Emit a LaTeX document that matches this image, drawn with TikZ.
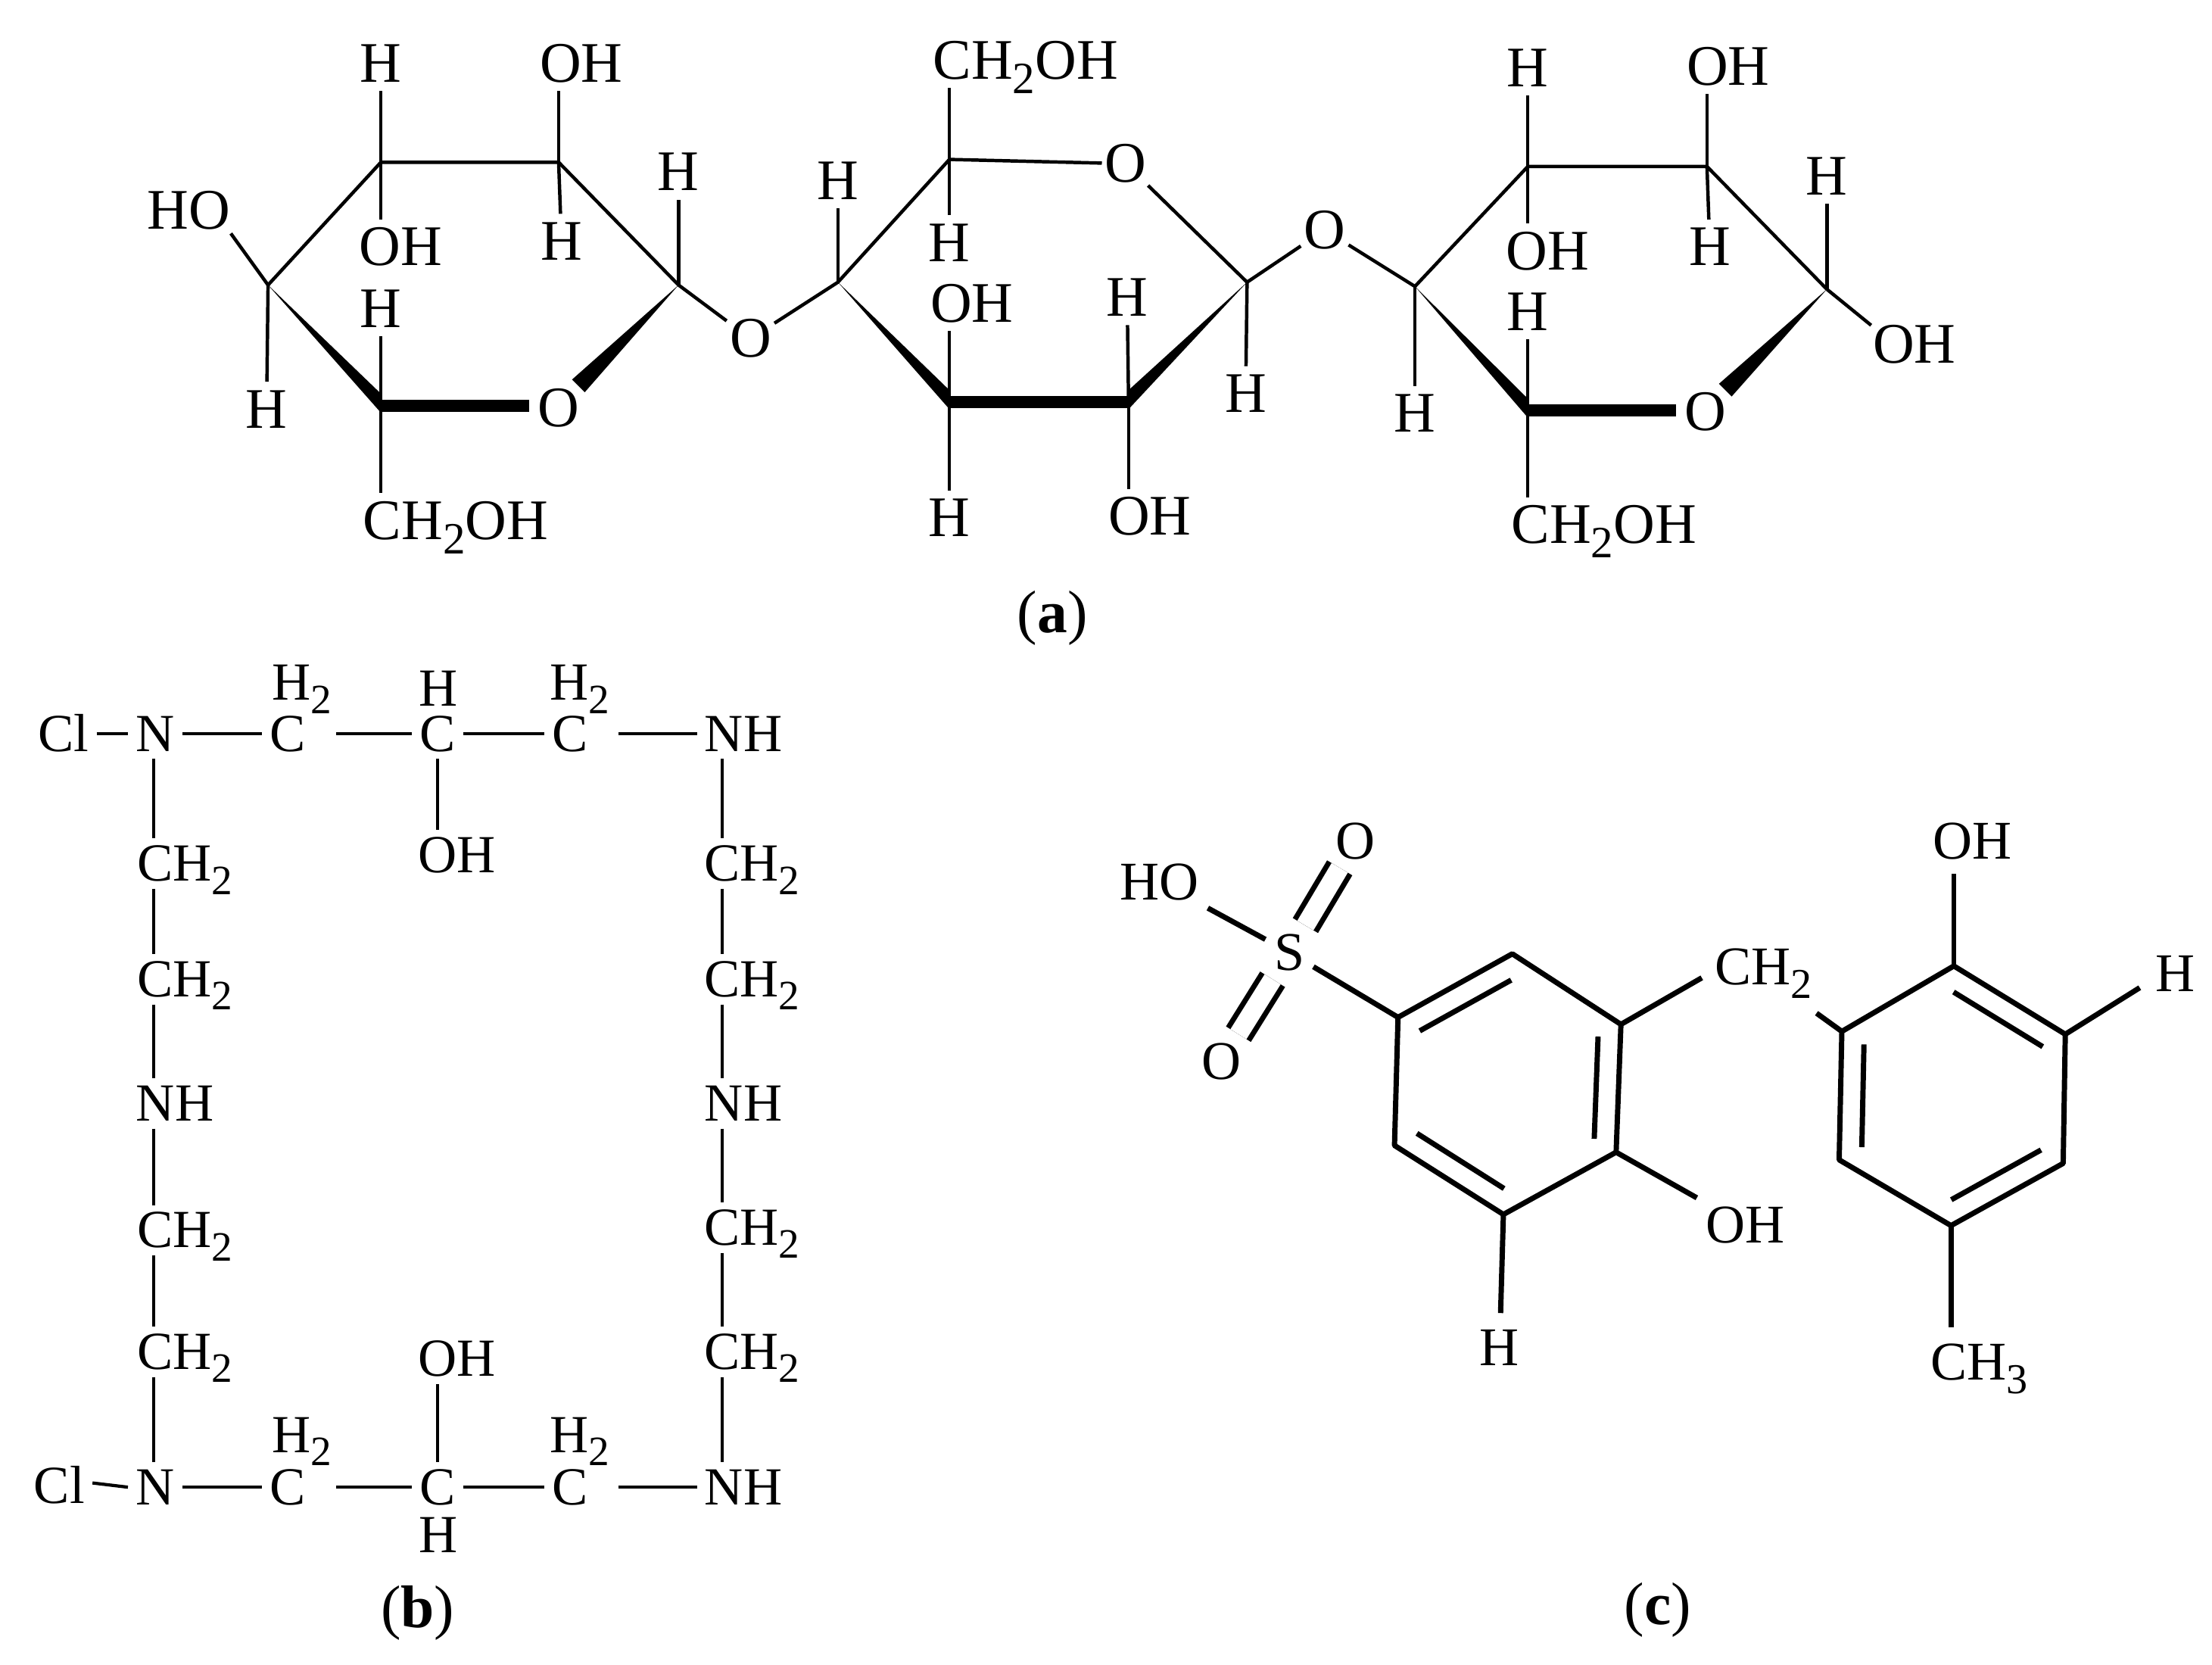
\documentclass[tikz,border=0pt]{standalone}
\usepackage{fontspec}
\setmainfont{Liberation Serif}
\usetikzlibrary{calc}

\newcommand{\lsub}[1]{\raisebox{-0.25em}{\scalebox{0.78}{#1}}}
\newcommand{\wedgebond}[2]{\fill [black] (#1) -- ($(#2)+(0,-8.5)$) -- ($(#2)+(0,5)$) -- cycle;}
\newcommand{\wedgeback}[2]{\fill [black] (#1) -- ($(#2)+(0,5)$) -- ($(#2)+(0,-8.5)$) -- cycle;}
\newcommand{\wedgeoxy}[2]{\fill [black] (#1) -- ($(#2)+(18.5,-11)$) -- ($(#2)+(9.5,-20)$) -- cycle;}
\newcommand{\innerbond}[3]{\draw [bondc] ($(#3)!0.8!(#1)$) -- ($(#3)!0.8!(#2)$);}

\tikzset{
  atoma/.style={inner sep=4.5pt,text depth=0pt,text height=19.8pt,font=\fontsize{30.5}{30}\selectfont},
  oxya/.style={atoma,inner sep=1.5pt},
  atomb/.style={inner sep=4pt,text depth=0pt,text height=18.5pt,font=\fontsize{28.5}{28}\selectfont},
  atomc/.style={inner sep=4.5pt,text depth=0pt,text height=19.2pt,font=\fontsize{29}{29}\selectfont},
  caption/.style={inner sep=0pt,font=\fontsize{32}{32}\selectfont},
  bonda/.style={line width=1.8pt},
  bondb/.style={line width=1.7pt},
  bondc/.style={line width=2.8pt},
  boldbond/.style={line width=6.4pt},
  doublebond/.style={bondc,double,double distance=10pt}
}

\begin{document}
\begin{tikzpicture}[x=0.75pt,y=0.75pt,yscale=-1,xscale=1]
\useasboundingbox (0,0) rectangle (1568,1180);

\coordinate (a1) at (190,202);
\coordinate (a2) at (270,115);
\coordinate (a3) at (396,115);
\coordinate (a4) at (481,202);
\coordinate (a5) at (270,287.5);
\coordinate (b1) at (594,200);
\coordinate (b2) at (673,113);
\coordinate (b3) at (884,200);
\coordinate (b4) at (800,285);
\coordinate (b5) at (673,285);
\coordinate (d1) at (1003,203);
\coordinate (d2) at (1083,118);
\coordinate (d3) at (1210,118);
\coordinate (d4) at (1295,205);
\coordinate (d5) at (1083,291);

\node [atoma] (ha1) at (270,45) {H};
\node [atoma] (oha1) at (412,45) {OH};
\node [atoma] (hoa) at (134,149) {HO};
\node [atoma] (oha2) at (284,175) {OH};
\node [atoma] (ha2) at (398,171) {H};
\node [atoma] (ha3) at (481,122) {H};
\node [atoma] (ha4) at (270,219) {H};
\node [atoma] (ha5) at (189,290) {H};
\node [atoma] (oa1) at (396,289) {O};
\node [oxya] (oa2) at (532,240) {O};
\node [atoma] (cha) at (323,369) {CH\lsub{2}OH};

\node [atoma] (chb) at (727,43) {CH\lsub{2}OH};
\node [atoma] (hb1) at (594,128) {H};
\node [atoma] (hb2) at (673,172) {H};
\node [atoma] (ohb1) at (689,215) {OH};
\node [atoma] (hb3) at (799,211) {H};
\node [atoma] (hb4) at (883,279) {H};
\node [atoma] (hb5) at (673,367) {H};
\node [atoma] (ohb2) at (815,366) {OH};
\node [oxya] (ob1) at (798,116) {O};
\node [oxya] (ob2) at (939,163) {O};

\node [atoma] (hd1) at (1083,48) {H};
\node [atoma] (ohd1) at (1225,47) {OH};
\node [atoma] (hd2) at (1295,125) {H};
\node [atoma] (ohd2) at (1097,178) {OH};
\node [atoma] (hd3) at (1212,175) {H};
\node [atoma] (hd4) at (1083,221) {H};
\node [atoma] (hd5) at (1003,293) {H};
\node [atoma] (ohd3) at (1357,244) {OH};
\node [atoma] (od1) at (1209,292) {O};
\node [atoma] (chd) at (1137,372) {CH\lsub{2}OH};

\draw [bonda] (a1) -- (a2) -- (a3) -- (a4) -- (oa2);
\draw [bonda] (oa2) -- (b1) -- (b2) -- (ob1);
\draw [bonda] (ob1) -- (b3) -- (ob2);
\draw [bonda] (ob2) -- (d1) -- (d2) -- (d3) -- (d4);
\draw [bonda] (a2) -- (ha1);
\draw [bonda] (a3) -- (a3 |- oha1.south);
\draw [bonda] (a1) -- ($(hoa.south east)+(-6,-3)$);
\draw [bonda] (a2) -- (a2 |- oha2.north);
\draw [bonda] (a3) -- (ha2);
\draw [bonda] (a4) -- (ha3);
\draw [bonda] (a5) -- (ha4);
\draw [bonda] (a1) -- (ha5);
\draw [bonda] (a5) -- (a5 |- cha.north);
\draw [bonda] (b1) -- (hb1);
\draw [bonda] (b2) -- (b2 |- chb.south);
\draw [bonda] (b2) -- (hb2);
\draw [bonda] (b5) -- (b5 |- ohb1.south);
\draw [bonda] (b4) -- (hb3);
\draw [bonda] (b3) -- (hb4);
\draw [bonda] (b5) -- (hb5);
\draw [bonda] (b4) -- (b4 |- ohb2.north);
\draw [bonda] (d2) -- (hd1);
\draw [bonda] (d3) -- (d3 |- ohd1.south);
\draw [bonda] (d4) -- (hd2);
\draw [bonda] (d2) -- (d2 |- ohd2.north);
\draw [bonda] (d3) -- (hd3);
\draw [bonda] (d5) -- (hd4);
\draw [bonda] (d1) -- (hd5);
\draw [bonda] (d4) -- ($(ohd3.north west)+(5,6)$);
\draw [bonda] (d5) -- (d5 |- chd.north);

\wedgebond{a1}{a5}
\wedgeoxy{a4}{oa1}
\draw [boldbond] (a5) -- (oa1.west |- a5);
\wedgebond{b1}{b5}
\wedgeback{b3}{b4}
\draw [boldbond] (b5) -- (b4);
\wedgebond{d1}{d5}
\wedgeoxy{d4}{od1}
\draw [boldbond] (d5) -- (od1.west |- d5);

\node [caption] (capa) at (746,438) {(\textbf{a})};

\coordinate (lx) at (109,0);
\coordinate (rx) at (512,0);

\node [atomb] (cl1) at (45,520) {Cl};
\node [atomb] (n1) at (110,520) {N};
\node [atomb] (c1) at (204,520) {C};
\node [atomb] (c2) at (310,520) {C};
\node [atomb] (c3) at (404,520) {C};
\node [atomb] (nh1) at (527,520) {NH};
\node [atomb] (htop1) at (214,484) {H\lsub{2}};
\node [atomb] (htop2) at (311,488) {H};
\node [atomb] (htop3) at (411,484) {H\lsub{2}};
\node [atomb] (oh1) at (324,606) {OH};

\node [atomb] (chl1) at (131,612) {CH\lsub{2}};
\node [atomb] (chl2) at (131,694) {CH\lsub{2}};
\node [atomb] (nhl) at (124,782) {NH};
\node [atomb] (chl3) at (131,872) {CH\lsub{2}};
\node [atomb] (chl4) at (131,958) {CH\lsub{2}};
\node [atomb] (chr1) at (533,612) {CH\lsub{2}};
\node [atomb] (chr2) at (533,694) {CH\lsub{2}};
\node [atomb] (nhr) at (527,782) {NH};
\node [atomb] (chr3) at (533,870) {CH\lsub{2}};
\node [atomb] (chr4) at (533,958) {CH\lsub{2}};

\node [atomb] (cl2) at (42,1053) {Cl};
\node [atomb] (n2) at (110,1054) {N};
\node [atomb] (c4) at (204,1054) {C};
\node [atomb] (c5) at (310,1054) {C};
\node [atomb] (c6) at (404,1054) {C};
\node [atomb] (nh2) at (527,1054) {NH};
\node [atomb] (hbot1) at (214,1017) {H\lsub{2}};
\node [atomb] (hbot2) at (411,1017) {H\lsub{2}};
\node [atomb] (oh2) at (324,963) {OH};
\node [atomb] (hbot3) at (311,1088) {H};

\draw [bondb] (cl1) -- (n1);
\draw [bondb] (n1) -- (c1);
\draw [bondb,shorten <=12pt] (c1) -- (c2);
\draw [bondb] (c2) -- (c3);
\draw [bondb,shorten <=12pt] (c3) -- (nh1);
\draw [bondb] (c2.south) -- (c2 |- oh1.north);
\draw [bondb] ($(cl2.east)+(0,-2)$) -- (n2.west);
\draw [bondb] (n2) -- (c4);
\draw [bondb,shorten <=12pt] (c4) -- (c5);
\draw [bondb] (c5) -- (c6);
\draw [bondb,shorten <=12pt] (c6) -- (nh2);
\draw [bondb] (c5 |- oh2.south) -- (c5.north);

\foreach \top/\bot in {n1/chl1,chl1/chl2,chl2/nhl,nhl/chl3,chl3/chl4,chl4/n2}
  \draw [bondb] (lx |- \top.south) -- (lx |- \bot.north);
\foreach \top/\bot in {nh1/chr1,chr1/chr2,chr2/nhr,nhr/chr3,chr3/chr4,chr4/nh2}
  \draw [bondb] (rx |- \top.south) -- (rx |- \bot.north);

\node [caption] (capb) at (296,1143) {(\textbf{b})};

\coordinate (r1) at (991,721);
\coordinate (r2) at (1072,676);
\coordinate (r3) at (1149,726);
\coordinate (r4) at (1145.6,816.6);
\coordinate (r5) at (1065.7,860.7);
\coordinate (r6) at (988.5,811.8);
\coordinate (rc) at (1068,769);
\coordinate (s1) at (1305.6,731);
\coordinate (s2) at (1385,684.6);
\coordinate (s3) at (1464,733);
\coordinate (s4) at (1462.5,824.5);
\coordinate (s5) at (1383,868.6);
\coordinate (s6) at (1303.7,822);
\coordinate (sc) at (1384,777);

\node [atomc] (sul) at (914,675) {S};
\node [atomc] (hos) at (822,625) {HO};
\node [atomc] (ou) at (961,596) {O};
\node [atomc] (ol) at (866,752) {O};
\node [atomc] (chm) at (1250,685) {CH\lsub{2}};
\node [atomc] (ohr) at (1237,868) {OH};
\node [atomc] (hr) at (1063,955) {H};
\node [atomc] (ohs) at (1398,596) {OH};
\node [atomc] (hs) at (1542,690) {H};
\node [atomc] (chm3) at (1403,965) {CH\lsub{3}};

\draw [bondc,line join=round] (r1) -- (r2) -- (r3) -- (r4) -- (r5) -- (r6) -- cycle;
\draw [bondc,line join=round] (s1) -- (s2) -- (s3) -- (s4) -- (s5) -- (s6) -- cycle;
\innerbond{r1}{r2}{rc}
\innerbond{r3}{r4}{rc}
\innerbond{r5}{r6}{rc}
\innerbond{s2}{s3}{sc}
\innerbond{s4}{s5}{sc}
\innerbond{s6}{s1}{sc}

\draw [bondc] (hos) -- (sul);
\draw [bondc] (sul) -- (r1);
\draw [doublebond] (sul) -- (ou);
\draw [doublebond] (sul) -- (ol);
\draw [bondc] (r3) -- ($(chm.west)+(-3,8)$);
\draw [bondc] ($(chm.south east)+(-3,14)$) -- (s1);
\draw [bondc] (r4) -- (ohr.north west);
\draw [bondc,shorten >=4pt] (r5) -- (hr);
\draw [bondc,shorten >=3pt] (s2) -- (s2 |- ohs.south);
\draw [bondc] (s3) -- ($(hs.west)+(-5,10)$);
\draw [bondc,shorten >=4pt] (s5) -- (s5 |- chm3.north);

\node [caption] (capc) at (1175,1141) {(\textbf{c})};
\end{tikzpicture}
\end{document}
